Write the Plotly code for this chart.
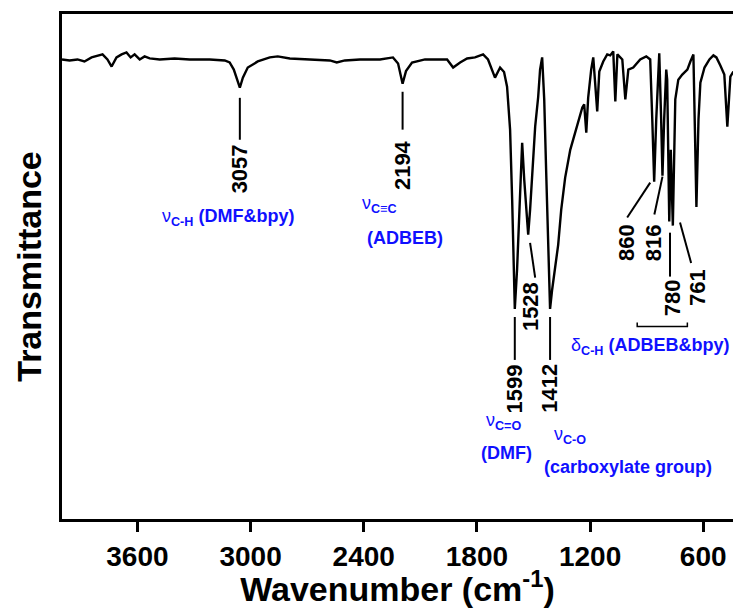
import plotly.graph_objects as go

# ---- spectrum data (wavenumber cm^-1, transmittance a.u.) ----
wavenumber = [4000, 3960, 3918, 3881, 3843, 3812, 3785, 3759, 3737, 3711, 3684, 3658, 3636, 3615, 3588,
              3562, 3535, 3482, 3403, 3323, 3217, 3137, 3111, 3089, 3073, 3057, 3041, 3015, 2962, 2898,
              2856, 2792, 2686, 2580, 2543, 2500, 2420, 2314, 2245, 2218, 2194, 2176, 2144, 2075, 1958,
              1926, 1889, 1852, 1810, 1767, 1741, 1704, 1677, 1656, 1640, 1624, 1613, 1603, 1599, 1587,
              1576, 1565, 1560, 1549, 1539, 1528, 1518, 1507, 1491, 1475, 1465, 1454, 1443, 1433, 1422,
              1412, 1401, 1385, 1369, 1353, 1332, 1305, 1279, 1257, 1241, 1231, 1220, 1210, 1194, 1183,
              1172, 1162, 1151, 1130, 1109, 1093, 1077, 1066, 1055, 1029, 1013, 997, 971, 934, 902,
              881, 870, 860, 849, 833, 823, 816, 807, 796, 791, 780, 772, 761, 748, 732,
              711, 684, 668, 652, 644, 636, 625, 615, 593, 567, 546, 530, 509, 488, 472,
              456, 440]
transmittance = [91.0, 90.8, 91.0, 90.6, 91.4, 91.8, 92.0, 91.0, 89.6, 91.4, 92.0, 92.4, 91.4, 92.0, 91.0,
                 91.6, 91.2, 91.0, 91.2, 91.0, 91.0, 90.8, 90.4, 89.0, 87.0, 85.4, 87.4, 89.4, 90.6, 91.4,
                 91.6, 91.2, 91.0, 90.8, 90.4, 90.8, 91.0, 91.0, 91.4, 90.2, 86.2, 88.7, 90.4, 91.0, 91.0,
                 89.4, 90.4, 91.2, 91.4, 92.0, 91.0, 87.4, 89.4, 88.5, 85.6, 77.1, 63.2, 49.4, 41.6, 49.4,
                 58.3, 68.2, 74.5, 67.2, 61.2, 56.3, 61.2, 68.2, 77.7, 83.6, 89.0, 91.4, 83.1, 69.2, 53.3,
                 41.6, 45.4, 49.4, 54.3, 61.2, 67.6, 73.1, 76.5, 79.1, 81.5, 82.1, 76.5, 83.4, 89.0, 91.4,
                 86.0, 80.7, 88.6, 90.6, 92.0, 91.8, 92.6, 82.7, 92.0, 91.0, 83.1, 89.0, 89.4, 91.0, 91.6,
                 91.0, 79.1, 66.8, 79.1, 92.2, 79.1, 68.0, 79.1, 89.0, 87.0, 58.9, 73.1, 58.1, 83.1, 87.0,
                 88.0, 89.0, 90.6, 92.0, 77.1, 61.8, 79.1, 86.4, 89.4, 91.0, 91.8, 91.4, 89.8, 88.0, 77.7,
                 87.6, 88.6]

x_tick_vals = [3600, 3000, 2400, 1800, 1200, 600]
x_tick_text = ["3600", "3000", "2400", "1800", "1200", "600"]

# ---- peak labels: text, text position (x, y), leader line (x0, y0, x1, y1) ----
peak_labels = ["3057", "2194", "1599", "1528", "1412", "860", "816", "780", "761"]
peak_text_x = [3057, 2194, 1599, 1512, 1412, 1003, 864, 763, 631]
peak_text_y = [69.4, 70.0, 25.8, 42.0, 25.8, 54.7, 54.7, 43.8, 45.8]
leader_lines = [
    (3057, 83.4, 3057, 75.1),
    (2194, 84.6, 2194, 77.1),
    (1599, 40.0, 1599, 31.5),
    (1412, 40.0, 1412, 31.5),
    (1518, 54.7, 1491, 47.8),
    (881, 66.6, 1003, 59.7),
    (816, 67.8, 859, 60.3),
    (776, 56.7, 776, 48.0),
    (723, 58.7, 664, 50.7),
]
bracket = (950, 684, 38.1, 38.9)

# ---- assignment labels (blue) ----
assign_texts = [
    "ν<sub><b>C-H</b></sub> <b>(DMF&bpy)</b>",
    "ν<sub><b>C≡C</b></sub>",
    "<b>(ADBEB)</b>",
    "ν<sub><b>C=O</b></sub>",
    "<b>(DMF)</b>",
    "ν<sub><b>C-O</b></sub>",
    "<b>(carboxylate group)</b>",
    "δ<sub><b>C-H</b></sub> <b>(ADBEB&bpy)</b>",
]
assign_x = [3482, 2420, 2394, 1762, 1789, 1401, 1454, 1310]
assign_y = [59.7, 62.2, 55.7, 19.4, 13.1, 16.5, 10.3, 34.1]

FONT = "Liberation Sans, Arial, sans-serif"
BLUE = "#1010ff"

fig = go.Figure()
fig.add_trace(go.Scatter(x=wavenumber, y=transmittance, mode="lines",
                         line=dict(color="black", width=2.4), hoverinfo="skip"))

shapes = []
for (x0, y0, x1, y1) in leader_lines:
    shapes.append(dict(type="line", xref="x", yref="y", x0=x0, y0=y0, x1=x1, y1=y1,
                       line=dict(color="black", width=2)))
bx0, bx1, by, byt = bracket
shapes.append(dict(type="path", xref="x", yref="y",
                   path=f"M {bx0},{byt} L {bx0},{by} L {bx1},{by} L {bx1},{byt}",
                   line=dict(color="black", width=1.5)))

annotations = []
for t, x, y in zip(peak_labels, peak_text_x, peak_text_y):
    annotations.append(dict(x=x, y=y, xref="x", yref="y", text=f"<b>{t}</b>", showarrow=False,
                            textangle=-90, font=dict(family=FONT, size=22, color="black")))
for t, x, y in zip(assign_texts, assign_x, assign_y):
    annotations.append(dict(x=x, y=y, xref="x", yref="y", text=t, showarrow=False,
                            xanchor="left", yanchor="middle",
                            font=dict(family=FONT, size=18, color=BLUE)))

fig.update_layout(
    width=733, height=608,
    margin=dict(l=62, r=0, t=14, b=89),
    paper_bgcolor="white", plot_bgcolor="white",
    showlegend=False,
    shapes=shapes, annotations=annotations,
    xaxis=dict(range=[4000, 442], tickvals=x_tick_vals, ticktext=x_tick_text,
               ticks="outside", ticklen=10, tickwidth=3, tickcolor="black",
               showline=True, linewidth=3, linecolor="black", mirror=True,
               showgrid=False, zeroline=False,
               tickfont=dict(family=FONT, size=28, color="black", weight="bold"),
               title=dict(text="Wavenumber (cm<sup>-1</sup>)", standoff=2,
                          font=dict(family=FONT, size=34, color="black", weight="bold"))),
    yaxis=dict(range=[0, 100], showticklabels=False, ticks="",
               showline=True, linewidth=3, linecolor="black", mirror=False,
               showgrid=False, zeroline=False,
               title=dict(text="Transmittance", standoff=8,
                          font=dict(family=FONT, size=34, color="black", weight="bold"))),
)

fig.write_html("out.html")
